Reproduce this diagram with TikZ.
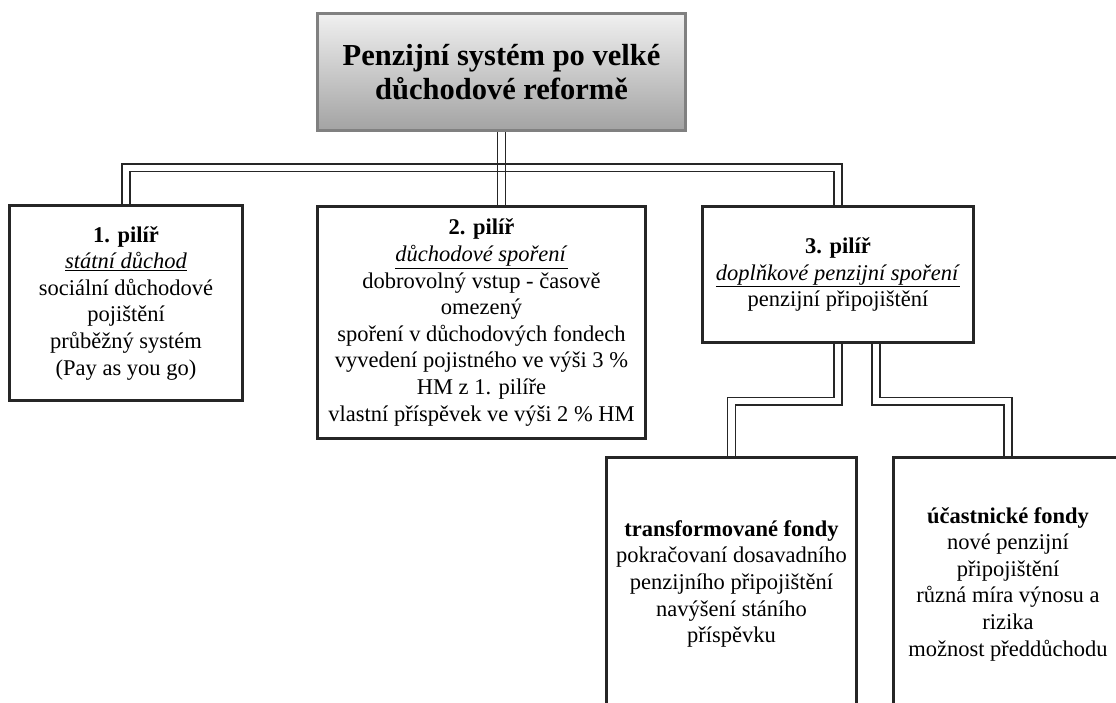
\documentclass[tikz,border=0pt]{standalone}
\usepackage{fontspec}
\setmainfont{Liberation Serif}
\usetikzlibrary{calc}
\tikzset{
  box/.style={draw=black!85, line width=1.6pt, fill=white, align=center, inner sep=2pt,
    font=\fontsize{22.5}{26.6}\selectfont},
  titlebox/.style={draw=black!50, line width=1.6pt, top color=black!6, bottom color=black!36,
    align=center, font=\fontsize{30.5}{33.5}\selectfont\bfseries},
  dbl/.style={draw=black!85, line width=1.5pt, double=white, double distance=6.3pt},
  sgl/.style={draw=black!85, line width=1.5pt},
  edge/.style={draw=black!85, line width=1.6pt},
}
\begin{document}
\begin{tikzpicture}[x=1pt,y=1pt]
\useasboundingbox (0,0) rectangle (1116,-702);
\clip (0,0) rectangle (1116,-702);
% nodes
\node[titlebox, minimum width=367pt, minimum height=116pt] (top) at (501.5,-72)
  {Penzijní systém po velké\\důchodové reformě};
\node[box, minimum width=232pt, minimum height=194pt] (p1) at (126,-303)
  {\textbf{1. pilíř}\\\underline{\textit{státní důchod}}\\sociální důchodové\\pojištění\\průběžný systém\\(Pay as you go)};
\node[box, minimum width=327pt, minimum height=231pt] (p2) at (481.5,-322.5)
  {\textbf{2. pilíř}\\\underline{\textit{důchodové spoření}}\\dobrovolný vstup - časově\\omezený\\spoření v důchodových fondech\\vyvedení pojistného ve výši 3 \%\\HM z 1. pilíře\\vlastní příspěvek ve výši 2 \% HM};
\node[box, minimum width=270pt, minimum height=135pt] (p3) at (838,-274.5)
  {\textbf{3. pilíř}\\\underline{\textit{doplňkové penzijní spoření}}\\penzijní připojištění};
\node[box, minimum width=249pt, minimum height=252pt] (tf) at (731.5,-584)
  {\textbf{transformované fondy}\\pokračovaní dosavadního\\penzijního připojištění\\navýšení stáního\\příspěvku};
\node[box, minimum width=228pt, minimum height=252pt] (uf) at (1008,-584)
  {\textbf{účastnické fondy}\\nové penzijní\\připojištění\\různá míra výnosu a\\rizika\\možnost předdůchodu};
% connectors
\draw[dbl] (p1.north) -- ++(0,37.5) -| (p3.north);
\draw[sgl] ($(top.south)+(-4,0)$) -- ($(top.south |- p2.north)+(-4,0)$);
\draw[sgl] ($(top.south)+(4,0)$) -- ($(top.south |- p2.north)+(4,0)$);
\draw[dbl] (p3.south) -- ++(0,-58.5) -| (tf.north);
\draw[dbl] ($(p3.south)+(38,0)$) -- ++(0,-58.5) -| (uf.north);
% redraw borders on top so connectors end at them
\draw[edge, draw=black!50] (top.south west) rectangle (top.north east);
\draw[edge] (p1.south west) rectangle (p1.north east);
\draw[edge] (p2.south west) rectangle (p2.north east);
\draw[edge] (p3.south west) rectangle (p3.north east);
\draw[edge] (tf.south west) rectangle (tf.north east);
\draw[edge] (uf.south west) rectangle (uf.north east);
\end{tikzpicture}
\end{document}
